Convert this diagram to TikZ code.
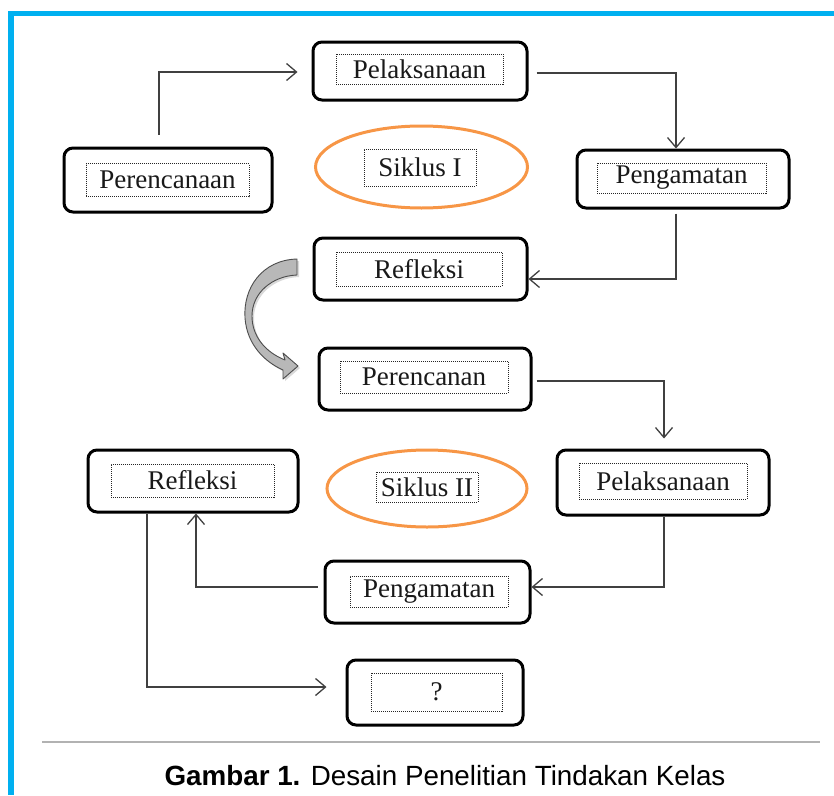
\documentclass[tikz,border=0pt]{standalone}
\usepackage{fontspec}
\setmainfont{Liberation Serif}
\newfontfamily\capfont{Liberation Sans}
\usetikzlibrary{arrows.meta,shapes.geometric}
\definecolor{frameblue}{HTML}{00B0F0}
\definecolor{ellorange}{HTML}{F79646}
\definecolor{connc}{HTML}{404040}
\tikzset{
  obox/.style={draw=black, line width=3pt, rounded corners=9pt, fill=white},
  ibox/.style={draw=black!85, dash pattern=on 1pt off 1pt, line width=0.9pt, inner sep=0pt,
    font=\fontsize{27}{30}\selectfont, text=black!90},
  ell/.style={draw=ellorange, line width=3pt, ellipse},
  conn/.style={draw=connc, line width=1.3pt, -{Straight Barb[length=10pt,width=17pt,line width=1.3pt]}},
}
\begin{document}
\begin{tikzpicture}[x=1pt,y=-1pt]
\useasboundingbox (0,0) rectangle (834,795);
% frame
\fill[frameblue] (8,11) rectangle (834,16);
\fill[frameblue] (8,11) rectangle (14,795);
% boxes
\node[obox, minimum width=214pt, minimum height=58pt] (pel1) at (420,71) {};
\node[ibox, minimum width=167pt, minimum height=30pt] (pel1t) at (419.5,69) {Pelaksanaan};

\node[obox, minimum width=208pt, minimum height=64pt] (per1) at (168,180) {};
\node[ibox, minimum width=163pt, minimum height=33pt] (per1t) at (167.5,180) {Perencanaan};

\node[ell, minimum width=212pt, minimum height=82pt, inner sep=0pt] (sik1) at (421.5,167) {};
\node[ibox, minimum width=112pt, minimum height=37pt] (sik1t) at (420,167.5) {Siklus I};

\node[obox, minimum width=212pt, minimum height=58pt] (peng1) at (683,179) {};
\node[ibox, minimum width=169pt, minimum height=30pt] (peng1t) at (681.5,178) {Pengamatan};

\node[obox, minimum width=213pt, minimum height=62pt] (ref1) at (420.5,269) {};
\node[ibox, minimum width=166pt, minimum height=34pt] (ref1t) at (419,269) {Refleksi};

\node[obox, minimum width=212pt, minimum height=62pt] (per2) at (425,379) {};
\node[ibox, minimum width=168pt, minimum height=32pt] (per2t) at (424,377) {Perencanan};

\node[ell, minimum width=200pt, minimum height=77pt, inner sep=0pt] (sik2) at (427,488.5) {};
\node[ibox, minimum width=102pt, minimum height=30pt] (sik2t) at (427,487) {Siklus II};

\node[obox, minimum width=210pt, minimum height=62pt] (ref2) at (193,481) {};
\node[ibox, minimum width=163pt, minimum height=33pt] (ref2t) at (192.5,480.5) {Refleksi};

\node[obox, minimum width=212pt, minimum height=65pt] (pel2) at (663,482.5) {};
\node[ibox, minimum width=168pt, minimum height=36pt] (pel2t) at (663,481) {Pelaksanaan};

\node[obox, minimum width=205pt, minimum height=62pt] (peng2) at (427.5,592) {};
\node[ibox, minimum width=158pt, minimum height=31pt] (peng2t) at (429,591.5) {Pengamatan};

\node[obox, minimum width=176pt, minimum height=65pt] (q) at (435,692.5) {};
\node[ibox, minimum width=131pt, minimum height=38pt] (qt) at (436.5,692) {?};

% connectors
\draw[conn] ([xshift=-9pt,yshift=12pt]per1.north) |- ([xshift=-14pt,yshift=-1pt]pel1.west);
\draw[conn] ([xshift=8pt,yshift=-2pt]pel1.east) -| ([xshift=-7pt]peng1.north);
\draw[conn] ([xshift=-7pt,yshift=-4pt]peng1.south) |- ([yshift=-10pt]ref1.east);
\draw[conn] ([xshift=4pt,yshift=-2pt]per2.east) -| ([xshift=1pt,yshift=10pt]pel2.north);
\draw[conn] ([xshift=1pt]pel2.south) |- ([yshift=5pt]peng2.east);
\draw[conn] ([xshift=-6pt,yshift=5pt]peng2.west) -| ([xshift=3pt]ref2.south);
\draw[conn] ([xshift=-46pt]ref2.south) |- ([xshift=-19pt,yshift=5.5pt]q.west);

% curved block arrow
\fill[black!25, opacity=0.6, xshift=2pt, yshift=-2pt]
  (297,259) .. controls (262,260) and (243,288) .. (245,318)
  .. controls (247,345) and (265,362) .. (283,370) -- (283,379) -- (298,366)
  -- (283,353) -- (285,360)
  .. controls (265,352) and (252,336) .. (252,316)
  .. controls (252,293) and (272,276) .. (297,275) -- cycle;
\filldraw[fill=black!28, draw=black!70, line width=0.9pt, line join=round]
  (297,259) .. controls (262,260) and (243,288) .. (245,318)
  .. controls (247,345) and (265,362) .. (283,370) -- (283,379) -- (298,366)
  -- (283,353) -- (285,360)
  .. controls (265,352) and (252,336) .. (252,316)
  .. controls (252,293) and (272,276) .. (297,275) -- cycle;

% caption
\draw[black!30, line width=1.5pt] (42,742) -- (820,742);
\node[font=\capfont\fontsize{27.8}{30}\selectfont, anchor=base] (cap) at (445,785) {\textbf{Gambar 1.} Desain Penelitian Tindakan Kelas};
\end{tikzpicture}
\end{document}
